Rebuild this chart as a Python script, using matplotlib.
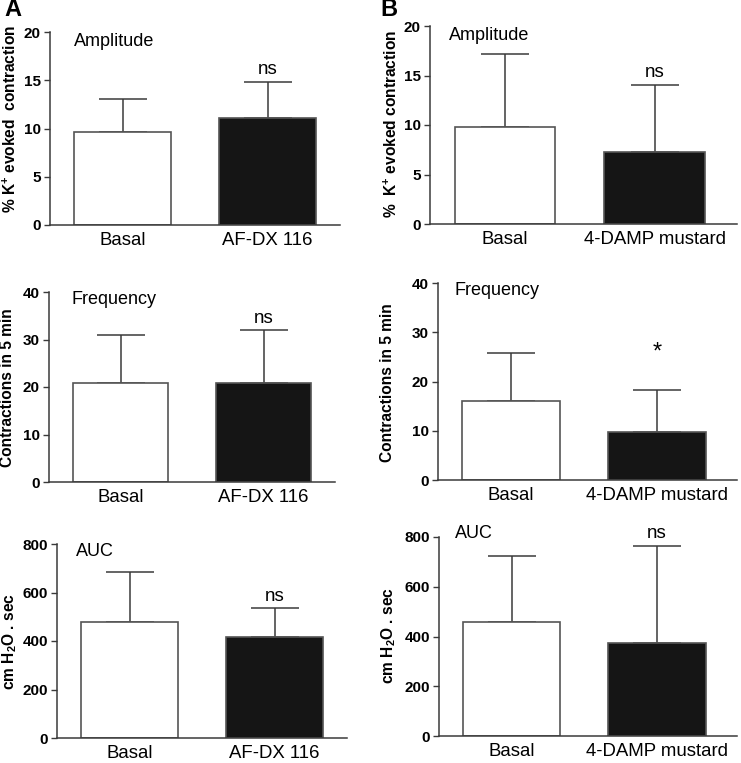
import numpy as np
import matplotlib
matplotlib.use('Agg')
import matplotlib.pyplot as plt

plt.rcParams['font.family'] = ['Liberation Sans', 'DejaVu Sans']
plt.rcParams['mathtext.fontset'] = 'custom'
plt.rcParams['mathtext.rm'] = 'Liberation Sans:bold'
plt.rcParams['mathtext.bf'] = 'Liberation Sans:bold'

# data (mean, upper SEM/SD end)
groups_A = ['Basal', 'AF-DX 116']
groups_B = ['Basal', '4-DAMP mustard']

amp_A = [9.65, 11.05]
amp_A_err = [13.05, 14.85]
amp_B = [9.75, 7.25]
amp_B_err = [17.15, 14.05]

freq_A = [20.8, 20.8]
freq_A_err = [31.0, 32.1]
freq_B = [16.0, 9.8]
freq_B_err = [25.8, 18.2]

auc_A = [480, 418]
auc_A_err = [686, 537]
auc_B = [458, 372]
auc_B_err = [723, 762]

sig_A = ['ns', 'ns', 'ns']
sig_B = ['ns', '*', 'ns']

line_col = '#3a3a3a'
W, H = 741, 763

def px_axes(fig, x0, x1, ytop, ybot):
    return fig.add_axes([x0 / W, (H - ybot) / H, (x1 - x0) / W, (ybot - ytop) / H])

def panel(ax, labels, vals, tops, ymax, yticks, title, title_pos, ylabel, ylab_pos,
          sig, sig_off, xright):
    x = np.arange(len(vals))
    ax.bar(x, vals, width=0.67, color=['white', '#151515'], edgecolor='#555555',
           linewidth=1.2, zorder=2)
    err = np.array(tops) - np.array(vals)
    ax.errorbar(x, vals, yerr=[np.zeros_like(err), err], fmt='none',
                ecolor=line_col, elinewidth=1.1, capsize=17, capthick=1.1, zorder=1)
    ax.set_xlim(-0.5, xright)
    ax.set_ylim(0, ymax)
    ax.set_yticks(yticks)
    ax.set_xticks(x)
    ax.set_xticklabels(labels, fontsize=13.4)
    ax.tick_params(axis='x', length=0, pad=5)
    ax.tick_params(axis='y', length=4.5, width=1, color=line_col, pad=2, labelsize=11)
    for t in ax.get_yticklabels():
        t.set_fontweight('bold')
    for s in ['top', 'right']:
        ax.spines[s].set_visible(False)
    for s in ['left', 'bottom']:
        ax.spines[s].set_color(line_col)
        ax.spines[s].set_linewidth(1.1)
    ax.text(title_pos[0], title_pos[1], title, transform=ax.transAxes,
            fontsize=13, ha='left', va='center')
    ax.set_ylabel(ylabel, fontsize=11.2, fontweight='bold', va='center')
    ax.yaxis.set_label_coords(*ylab_pos)
    fs = 17 if sig == '*' else 13.5
    ax.annotate(sig, xy=(1, tops[1]), xytext=(0, sig_off), textcoords='offset points',
                ha='center', va='center', fontsize=fs)

fig = plt.figure(figsize=(W / 100, H / 100), dpi=100)

amp_label_A = r'% K$^{+}$ evoked  contraction'
amp_label_B = r'%  K$^{+}$ evoked contraction'
freq_label = 'Contractions in 5 min'
auc_label = r'cm H$_{2}$O . sec'

ax = px_axes(fig, 50, 340, 32, 225)
panel(ax, groups_A, amp_A, amp_A_err, 20, [0, 5, 10, 15, 20], 'Amplitude', (0.083, 0.95),
      amp_label_A, (-0.138, 0.55), sig_A[0], 9, 1.5)
ax = px_axes(fig, 430, 737, 26, 224)
panel(ax, groups_B, amp_B, amp_B_err, 20, [0, 5, 10, 15, 20], 'Amplitude', (0.063, 0.953),
      amp_label_B, (-0.127, 0.507), sig_B[0], 9, 1.55)
ax = px_axes(fig, 49, 335, 292, 482)
panel(ax, groups_A, freq_A, freq_A_err, 40, [0, 10, 20, 30, 40], 'Frequency', (0.08, 0.96),
      freq_label, (-0.145, 0.496), sig_A[1], 8, 1.5)
ax = px_axes(fig, 438, 737, 283, 480)
panel(ax, groups_B, freq_B, freq_B_err, 40, [0, 10, 20, 30, 40], 'Frequency', (0.056, 0.963),
      freq_label, (-0.168, 0.495), sig_B[1], 27, 1.55)
ax = px_axes(fig, 57, 347, 544, 738)
panel(ax, groups_A, auc_A, auc_A_err, 800, [0, 200, 400, 600, 800], 'AUC', (0.065, 0.962),
      auc_label, (-0.163, 0.495), sig_A[2], 8, 1.5)
ax = px_axes(fig, 439, 737, 537, 736)
panel(ax, groups_B, auc_B, auc_B_err, 800, [0, 200, 400, 600, 800], 'AUC', (0.054, 1.017),
      auc_label, (-0.168, 0.503), sig_B[2], 9, 1.55)

fig.text(4 / W, 1 - 10 / H, 'A', fontsize=17, fontweight='bold', va='center', ha='left')
fig.text(380 / W, 1 - 10 / H, 'B', fontsize=17, fontweight='bold', va='center', ha='left')

fig.savefig('out.png', dpi=100)
